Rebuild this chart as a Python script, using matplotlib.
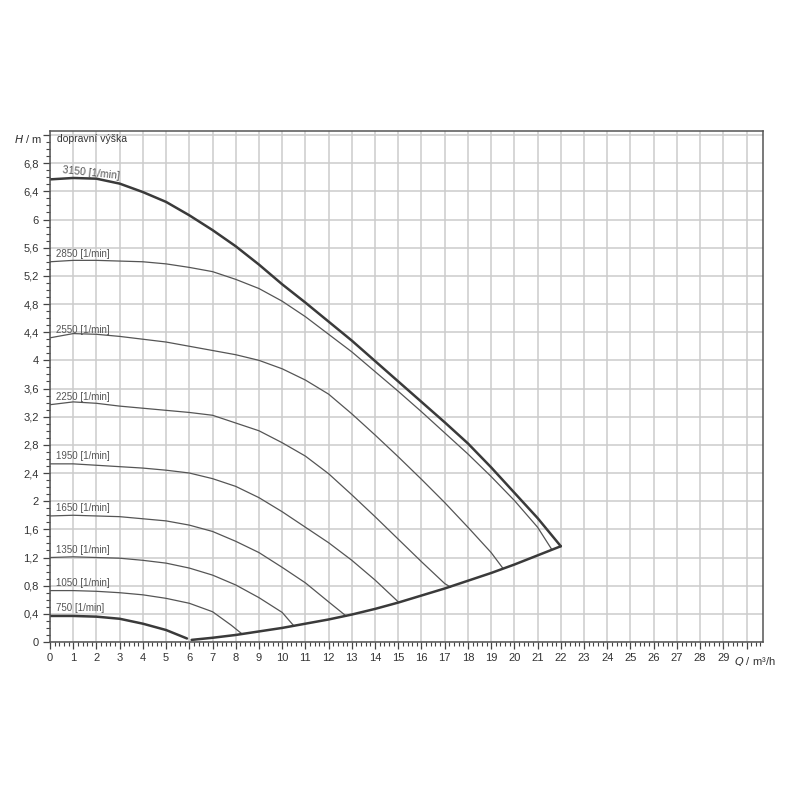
"""Pump characteristic: head H vs flow Q for several speeds (1/min)."""
import matplotlib
matplotlib.use("Agg")
import matplotlib.pyplot as plt
from matplotlib.ticker import MultipleLocator

# ---- data ----
speeds = ["3150", "2850", "2550", "2250", "1950", "1650", "1350", "1050", "750"]

q_3150 = [0, 1, 2, 3, 4, 5, 6, 7, 8, 9, 10, 11, 12, 13, 14, 15, 16, 17, 18, 19, 20, 21, 22]
h_3150 = [6.57, 6.59, 6.58, 6.51, 6.39, 6.25, 6.06, 5.85, 5.62, 5.36, 5.08, 4.82, 4.55,
          4.28, 3.99, 3.70, 3.41, 3.12, 2.82, 2.48, 2.12, 1.76, 1.36]

q_2850 = [0, 1, 2, 3, 4, 5, 6, 7, 8, 9, 10, 11, 12, 13, 14, 15, 16, 17, 18, 19, 20, 21, 21.6]
h_2850 = [5.40, 5.42, 5.42, 5.41, 5.40, 5.37, 5.32, 5.26, 5.15, 5.02, 4.84, 4.62, 4.37,
          4.12, 3.84, 3.56, 3.27, 2.97, 2.67, 2.35, 2.01, 1.63, 1.32]

q_2550 = [0, 1, 2, 3, 4, 5, 6, 7, 8, 9, 10, 11, 12, 13, 14, 15, 16, 17, 18, 19, 19.5]
h_2550 = [4.32, 4.38, 4.37, 4.34, 4.30, 4.26, 4.20, 4.14, 4.08, 4.00, 3.88, 3.72, 3.52,
          3.24, 2.94, 2.63, 2.31, 1.98, 1.63, 1.27, 1.05]

q_2250 = [0, 1, 2, 3, 4, 5, 6, 7, 8, 9, 10, 11, 12, 13, 14, 15, 16, 17, 17.25]
h_2250 = [3.37, 3.41, 3.39, 3.35, 3.32, 3.29, 3.26, 3.22, 3.11, 3.00, 2.83, 2.64, 2.39,
          2.09, 1.78, 1.46, 1.14, 0.83, 0.78]

q_1950 = [0, 1, 2, 3, 4, 5, 6, 7, 8, 9, 10, 11, 12, 13, 14, 15]
h_1950 = [2.53, 2.53, 2.51, 2.49, 2.47, 2.44, 2.40, 2.32, 2.21, 2.05, 1.85, 1.63, 1.41,
          1.16, 0.88, 0.57]

q_1650 = [0, 1, 2, 3, 4, 5, 6, 7, 8, 9, 10, 11, 12, 12.75]
h_1650 = [1.79, 1.80, 1.79, 1.78, 1.75, 1.72, 1.66, 1.57, 1.43, 1.27, 1.06, 0.84, 0.57, 0.37]

q_1350 = [0, 1, 2, 3, 4, 5, 6, 7, 8, 9, 10, 10.5]
h_1350 = [1.20, 1.21, 1.20, 1.19, 1.16, 1.12, 1.05, 0.95, 0.81, 0.63, 0.42, 0.23]

q_1050 = [0, 1, 2, 3, 4, 5, 6, 7, 7.8, 8.25]
h_1050 = [0.73, 0.73, 0.72, 0.70, 0.67, 0.62, 0.55, 0.43, 0.24, 0.12]

q_750 = [0, 1, 2, 3, 4, 5, 5.9]
h_750 = [0.37, 0.37, 0.36, 0.33, 0.26, 0.17, 0.05]

# lower operating limit (minimum flow line)
q_limit = [6.1, 7, 8, 9, 10, 11, 12, 13, 14, 15, 16, 17, 18, 19, 20, 21, 22]
h_limit = [0.03, 0.06, 0.10, 0.15, 0.20, 0.26, 0.32, 0.39, 0.47, 0.56, 0.66, 0.76,
           0.87, 0.98, 1.10, 1.23, 1.36]

x_ticks = list(range(0, 31))
y_ticks = [round(0.4 * i, 1) for i in range(0, 19)]

curves = [(q_3150, h_3150), (q_2850, h_2850), (q_2550, h_2550), (q_2250, h_2250),
          (q_1950, h_1950), (q_1650, h_1650), (q_1350, h_1350), (q_1050, h_1050),
          (q_750, h_750)]

plt.rcParams["font.family"] = ["Liberation Sans", "DejaVu Sans"]

fig = plt.figure(figsize=(8, 8), dpi=100)
ax = fig.add_axes([0.0625, 0.1975, 0.891, 0.639])
ax.set_xlim(0, 30.7)
ax.set_ylim(0, 7.26)

grid_c = "#cccccc"
ax.set_xticks(x_ticks)
ax.set_xticklabels([str(v) for v in x_ticks[:-1]] + [""])
ax.set_yticks(y_ticks)
ax.set_yticklabels([("%g" % v).replace(".", ",") for v in y_ticks[:-1]] + [""])
ax.xaxis.set_minor_locator(MultipleLocator(0.2))
ax.yaxis.set_minor_locator(MultipleLocator(0.1))
ax.grid(True, which="major", color=grid_c, lw=1.1)
ax.set_axisbelow(True)
ax.tick_params(which="major", direction="out", length=5, width=0.9,
               color="#444444", labelsize=8, labelcolor="#333333", pad=3)
ax.tick_params(which="minor", direction="out", length=3, width=0.8, color="#444444")
for s in ax.spines.values():
    s.set_color("#555555")
    s.set_linewidth(1.1)

thick = dict(color="#3a3a3a", lw=1.8, solid_capstyle="round")
thin = dict(color="#555555", lw=0.9)

for i, (q, h) in enumerate(curves):
    style = thick if speeds[i] in ("3150", "750") else thin
    ax.plot(q, h, **style)
ax.plot(q_limit, h_limit, **thick)

# speed labels just above each curve at its left end
for i, (q, h) in enumerate(curves):
    if speeds[i] == "3150":
        ax.text(0.5, h[0] - 0.02, f"{speeds[i]} [1/min]", fontsize=7.5,
                color="#555555", ha="left", va="bottom", rotation=-6)
    else:
        ax.text(0.25, h[0] + 0.04, f"{speeds[i]} [1/min]", fontsize=7,
                color="#555555", ha="left", va="bottom")

ax.text(0.3, 7.14, "dopravní výška", fontsize=7.5, color="#333333",
        ha="left", va="center")
ax.text(-0.35, 7.14, "$\\bf{\\it{H}}$ / m", fontsize=8, color="#333333",
        ha="right", va="center", clip_on=False)
ax.text(29.45, -0.19, "$\\bf{\\it{Q}}$ / m³/h", fontsize=8, color="#333333",
        ha="left", va="top", clip_on=False)

fig.savefig("out.png", dpi=100, facecolor="white")
